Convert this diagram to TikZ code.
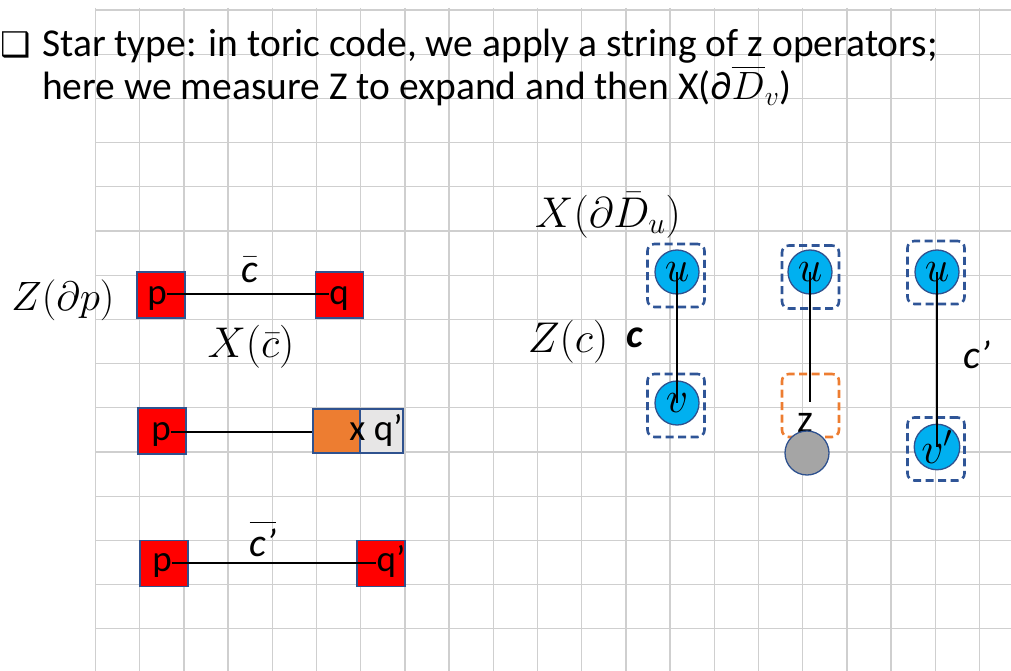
\RequirePackage{fix-cm}
\documentclass[tikz,border=0pt]{standalone}
\usepackage{amsmath,amssymb}
\usepackage{fontspec}
\setmainfont{Carlito}
\newfontfamily\dejavu{DejaVu Sans}
\usepackage{tikz}
\usepackage{xcolor}
\definecolor{boxred}{HTML}{FF0000}
\definecolor{edgeblue}{HTML}{2F528F}
\definecolor{dashblue}{HTML}{2F5597}
\definecolor{sitecyan}{HTML}{00B0F0}
\definecolor{xorange}{HTML}{ED7D31}
\definecolor{qgray}{HTML}{E7E6E6}
\definecolor{dotgray}{HTML}{A5A5A5}
\definecolor{gridgray}{HTML}{CFCFCF}

\begin{document}
\begin{tikzpicture}[x=1pt,y=-1pt,
  gridline/.style={gridgray,line width=1.3pt},
  sq/.style={draw=edgeblue,line width=1.3pt,minimum width=48pt,minimum height=46pt,inner sep=0pt},
  lbl/.style={inner sep=0pt,font=\fontsize{37}{44}\selectfont},
  lblit/.style={inner sep=0pt,font=\fontsize{40}{48}\selectfont\itshape},
  mth/.style={inner sep=0pt,font=\fontsize{43}{50}\selectfont},
  site/.style={circle,fill=sitecyan,draw=edgeblue,line width=1.3pt,minimum size=44pt,inner sep=0pt,font=\fontsize{44}{50}\selectfont},
  dbox/.style={draw=dashblue,dash pattern=on 8pt off 4.5pt,line width=2.6pt,rounded corners=7pt,minimum width=57pt,minimum height=63pt,inner sep=0pt},
  link/.style={line width=2.4pt}]
\useasboundingbox (0,0) rectangle (1011,671);
% grid paper
\foreach \i in {0,...,20} \draw[gridline] (95.5+44.2*\i,8) -- (95.5+44.2*\i,671);
\foreach \j in {0,...,14} \draw[gridline] (95.5,10+44.2*\j) -- (1011,10+44.2*\j);
% title
\node[anchor=base west,inner sep=0pt,font=\dejavu\fontsize{34}{40}\selectfont] (bullet) at (0,57) {❑};
\node[anchor=base west,inner sep=0pt,font=\fontsize{39.5}{44}\selectfont] (title1) at (42,57) {Star type: in toric code, we apply a string of z operators;};
\node[anchor=base west,inner sep=0pt,font=\fontsize{39.5}{44}\selectfont] (title2) at (42,100) {here we measure Z to expand and then X(∂$\overline{D}_{v}$)};
% p -- q
\node[sq,fill=boxred] (pbox1) at (161,295) {};
\node[sq,fill=boxred] (qbox1) at (339.5,295) {};
\node[lbl,anchor=base] (p1) at (157,304) {p};
\node[lbl,anchor=base] (q1) at (339,304) {q};
\draw[link] ([yshift=10pt]p1.base east) -- ([yshift=10pt]q1.base west);
\node[lblit,anchor=base] (cbar) at (250,282) {$\bar{\text{\itshape c}}$};
\node[mth,font=\fontsize{41}{48}\selectfont] (zdp) at (63,300) {$Z(\partial p)$};
\node[mth] (xcbar) at (251,347) {$X(\bar{c})$};
% p -- x q'
\node[sq,fill=boxred] (pbox2) at (162,431) {};
\node[sq,fill=xorange,minimum width=47pt,minimum height=44pt] (xbox) at (336.5,431) {};
\node[sq,fill=qgray,minimum width=43pt,minimum height=44pt] (qbox2) at (381.5,431) {};
\node[lbl,anchor=base] (p2) at (161,440) {p};
\node[lbl,anchor=base] (xq) at (376,440) {x q’};
\draw[link] ([yshift=8pt]p2.base east) -- ([yshift=8pt]p2.base east -| xbox.west);
% p -- q'
\node[sq,fill=boxred] (pbox3) at (164,563.5) {};
\node[sq,fill=boxred] (qbox3) at (381,563.5) {};
\node[lbl,anchor=base] (p3) at (162,571) {p};
\node[lbl,anchor=base] (q3) at (391,571) {q’};
\draw[link] ([yshift=8pt]p3.base east) -- ([yshift=8pt]q3.base west);
\node[lblit,anchor=base] (cpbar) at (263,556) {$\overline{\text{\itshape c’}}$};
% right side
\node[mth,anchor=base] (xdu) at (608,227) {$X(\partial\bar{D}_u)$};
\node[mth,anchor=base] (zc) at (568,352) {$Z(c)$};
\node[lblit,anchor=base,font=\fontsize{40}{48}\selectfont\bfseries\itshape] (clab) at (635,347) {c};
% u -- v
\node[dbox] (du1) at (676,275.5) {};
\node[dbox] (dv1) at (676,405.5) {};
\node[site] (u1) at (677,272) {$u$};
\node[site] (v1) at (677,403) {$v$};
\draw[link] (u1.center) -- (v1.center);
% u -- z
\node[dbox] (du2) at (810.5,277) {};
\node[dbox,draw=xorange] (dz) at (810.5,405.5) {};
\node[site] (u2) at (810,272) {$u$};
\coordinate (zend) at (810,402);
\draw[link] (u2.center) -- (zend);
\node[lbl,anchor=base,font=\fontsize{40}{48}\selectfont] (zlab) at (805,432) {z};
\node[site,fill=dotgray] (w) at (807,453) {};
% u -- v'
\node[dbox] (du3) at (936,272.5) {};
\node[dbox] (dv3) at (936,449) {};
\node[site] (u3) at (937,272) {$u$};
\node[site] (v3) at (937,447) {$v'$};
\draw[link] (u3.center) -- (v3.center);
\node[lblit,anchor=base] (cplab) at (977,368) {c’};
\end{tikzpicture}
\end{document}
